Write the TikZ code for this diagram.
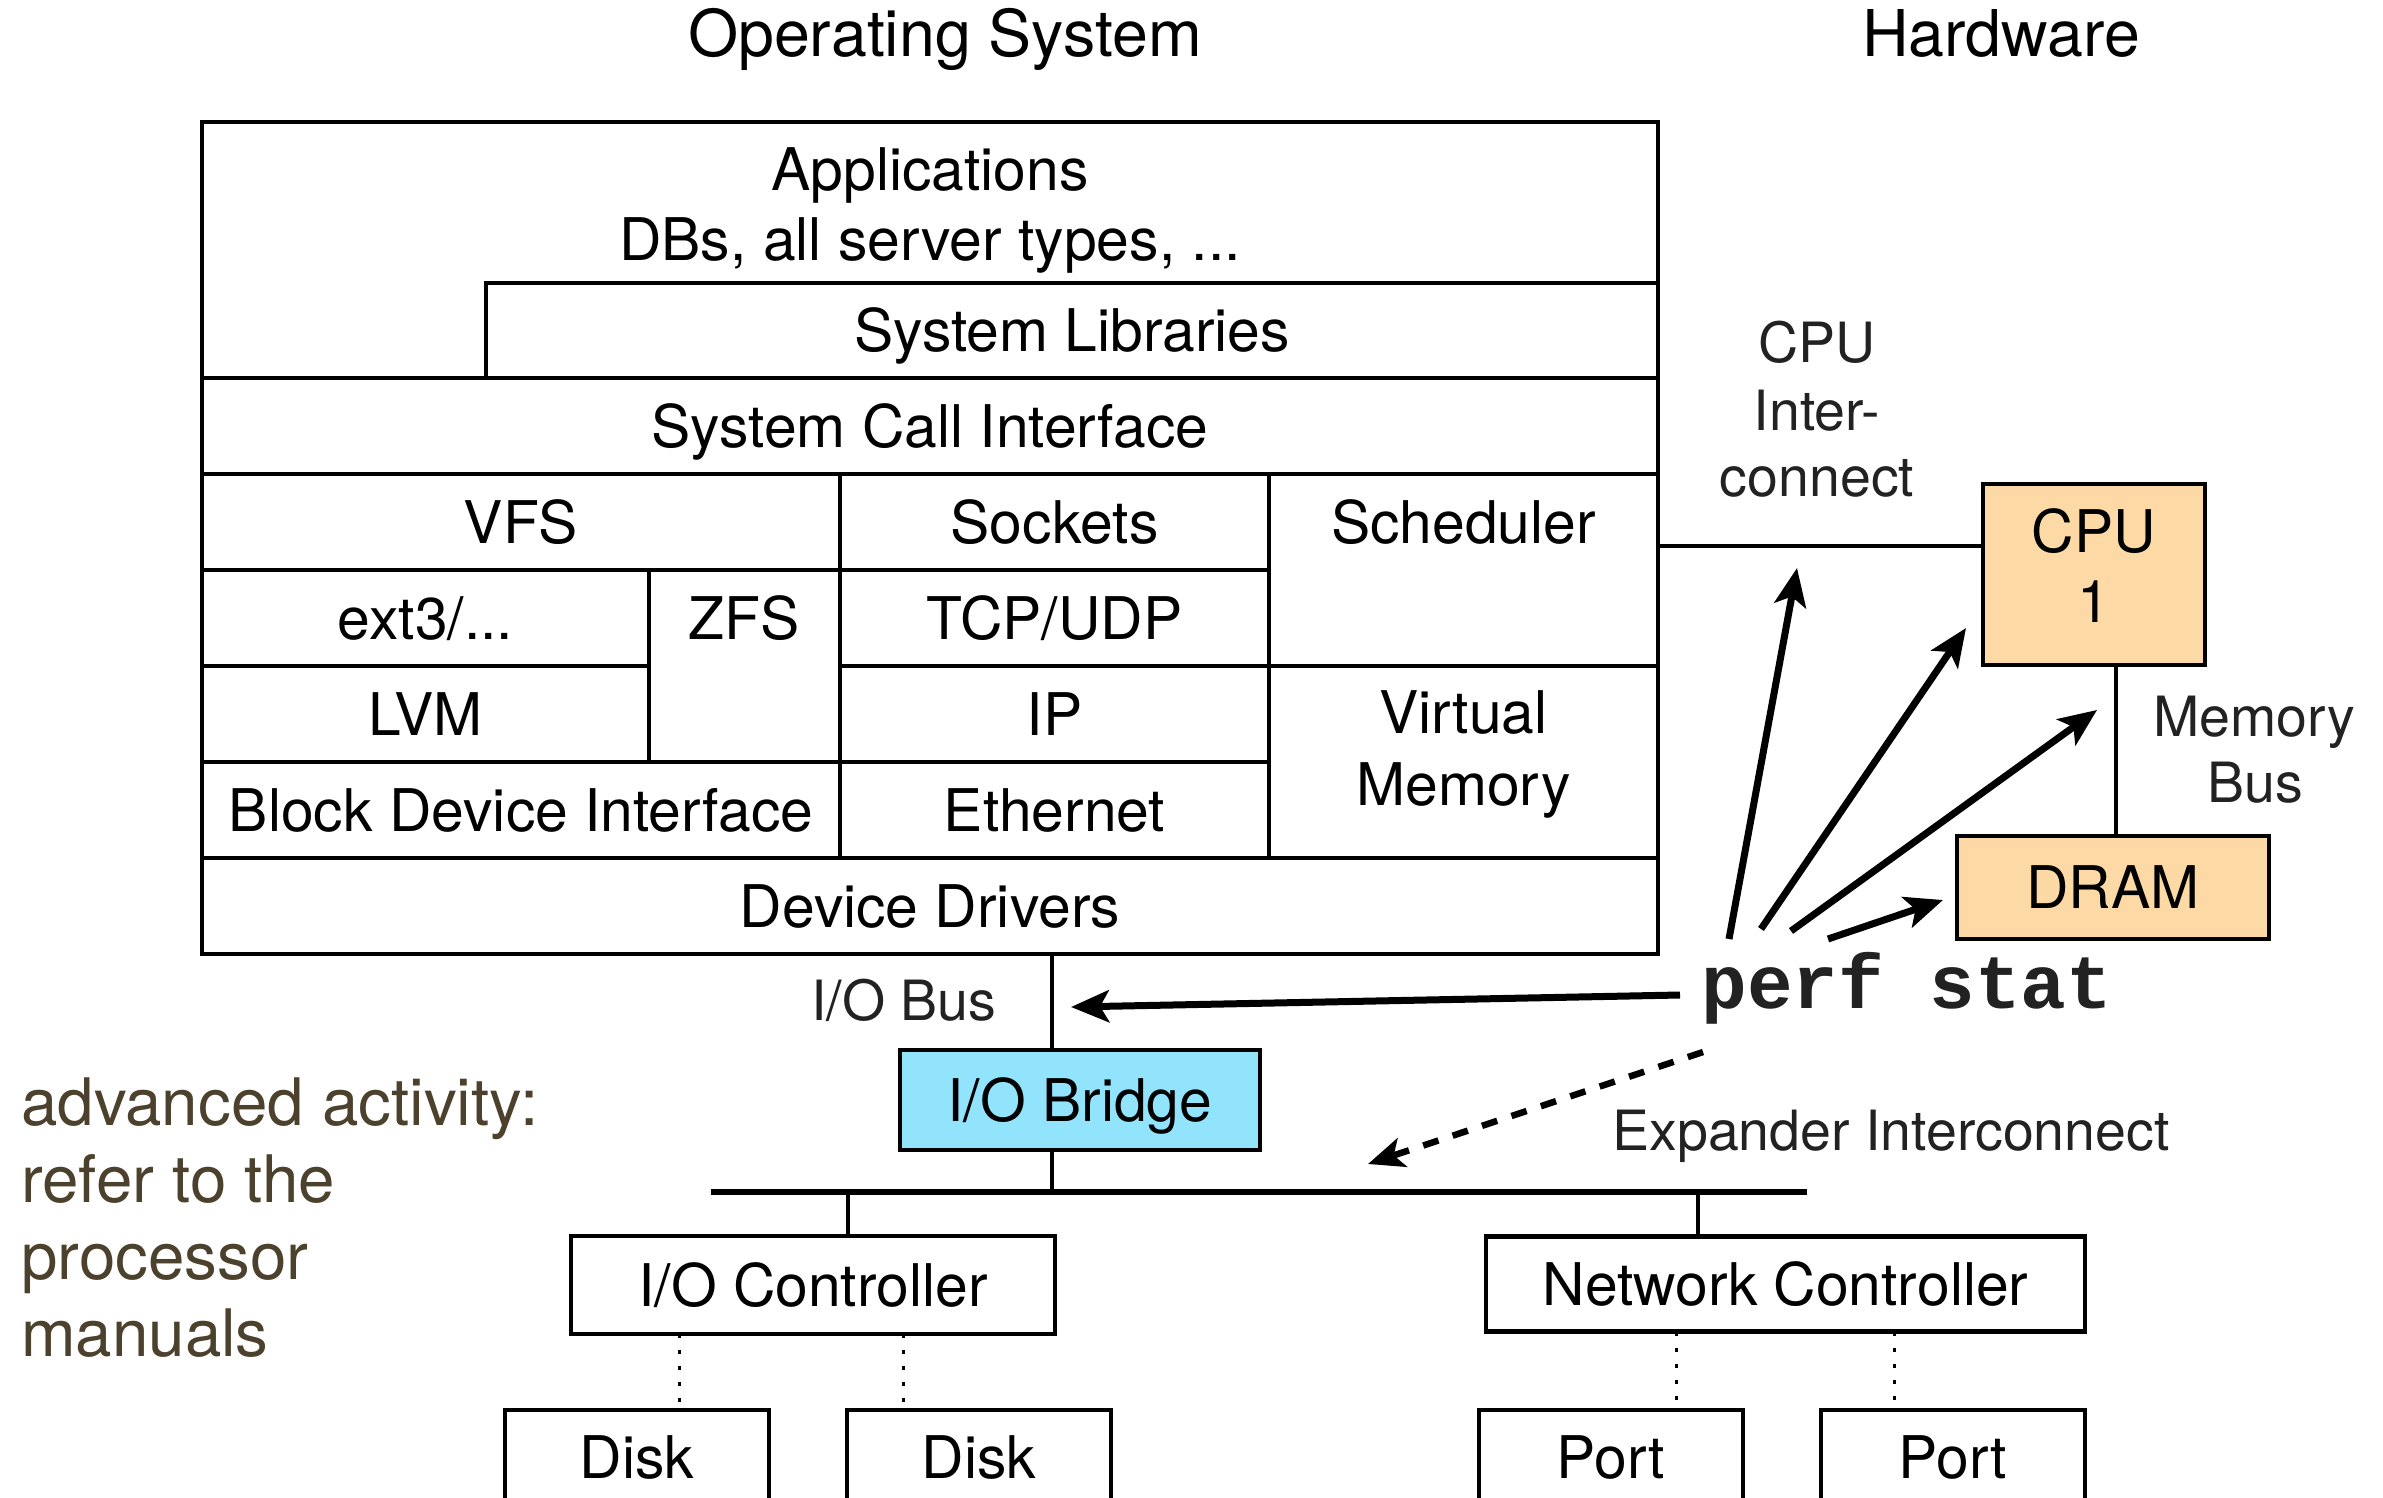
\documentclass[tikz,border=0pt]{standalone}
\usepackage{fontspec}
\setmainfont{TeX Gyre Heros}
\newfontfamily\perffont{Liberation Mono}
\usetikzlibrary{arrows.meta}
\definecolor{cpuorange}{HTML}{FCD9A5}
\definecolor{bridgecyan}{HTML}{92E3FC}
\definecolor{labelgray}{HTML}{222222}
\definecolor{advbrown}{HTML}{4B412D}
\tikzset{
  box/.style={draw=black, line width=4.5pt, inner sep=0pt, outer sep=0pt},
  bodytxt/.style={font=\fontsize{58.8}{70}\selectfont, inner sep=0pt, text height=42pt, text depth=0pt},
  lbl/.style={font=\fontsize{55.5}{66}\selectfont, text=labelgray, inner sep=0pt, anchor=base},
  head/.style={font=\fontsize{64.5}{77}\selectfont, inner sep=0pt, anchor=base},
  advtxt/.style={font=\fontsize{65.5}{77}\selectfont, text=advbrown, inner sep=0pt, anchor=base west},
  wire/.style={line width=3.5pt},
  buswire/.style={line width=5.5pt},
  perfarrow/.style={line width=7pt, -{Stealth[length=38pt,width=32pt,inset=9pt]}},
  dasharrow/.style={line width=6.5pt, dash pattern=on 16pt off 15pt, -{Stealth[length=36pt,width=30pt,inset=9pt]}},
  dotwire/.style={line width=3pt, dash pattern=on 4pt off 12pt},
}
\begin{document}
\begin{tikzpicture}[x=1pt,y=-1pt]
\useasboundingbox (0,0) rectangle (2383,1498);
\clip (0,0) rectangle (2383,1498);

% headings
\node[head] (oshead) at (945,57) {Operating System};
\node[head] (hwhead) at (2001,57) {Hardware};

% OS stack
\node[box, minimum width=1456pt, minimum height=832pt] (os) at (930,538) {};
\node[bodytxt] (app1) at (930,170) {Applications};
\node[bodytxt] (app2) at (930,240) {DBs, all server types, ...};
\node[box, bodytxt, minimum width=1172pt, minimum height=95pt] (syslib) at (1072,330.5) {System Libraries};
\node[box, bodytxt, minimum width=1456pt, minimum height=96pt] (sci) at (930,426) {System Call Interface};
\node[box, bodytxt, minimum width=638pt, minimum height=96pt] (vfs) at (521,522) {VFS};
\node[box, bodytxt, minimum width=429pt, minimum height=96pt] (sockets) at (1054.5,522) {Sockets};
\node[box, minimum width=389pt, minimum height=192pt] (sched) at (1463.5,570) {};
\node[bodytxt] (schedtxt) at (1463.5,522) {Scheduler};
\node[box, bodytxt, minimum width=447pt, minimum height=96pt] (ext) at (425.5,618) {ext3/...};
\node[box, minimum width=191pt, minimum height=192pt] (zfs) at (744.5,666) {};
\node[bodytxt] (zfstxt) at (744.5,618) {ZFS};
\node[box, bodytxt, minimum width=429pt, minimum height=96pt] (tcp) at (1054.5,618) {TCP/UDP};
\node[box, bodytxt, minimum width=447pt, minimum height=96pt] (lvm) at (425.5,714) {LVM};
\node[box, bodytxt, minimum width=429pt, minimum height=96pt] (ip) at (1054.5,714) {IP};
\node[box, minimum width=389pt, minimum height=192pt] (vm) at (1463.5,762) {};
\node[bodytxt] (vmtxt1) at (1463.5,712) {Virtual};
\node[bodytxt] (vmtxt2) at (1463.5,784) {Memory};
\node[box, bodytxt, minimum width=638pt, minimum height=96pt] (bdi) at (521,810) {Block Device Interface};
\node[box, bodytxt, minimum width=429pt, minimum height=96pt] (eth) at (1054.5,810) {Ethernet};
\node[box, bodytxt, minimum width=1456pt, minimum height=96pt] (dd) at (930,906) {Device Drivers};

% hardware
\node[box, fill=cpuorange, minimum width=222pt, minimum height=181pt] (cpu) at (2094,574.5) {};
\node[bodytxt] (cputxt1) at (2094,531) {CPU};
\node[bodytxt] (cputxt2) at (2094,601) {1};
\node[box, bodytxt, fill=cpuorange, minimum width=312pt, minimum height=103pt] (dram) at (2113,887.5) {DRAM};

\node[lbl] (ic1) at (1817,362) {CPU};
\node[lbl] (ic2) at (1817,430) {Inter-};
\node[lbl] (ic3) at (1817,496) {connect};
\node[lbl] (mb1) at (2254,736) {Memory};
\node[lbl] (mb2) at (2255,802) {Bus};

\coordinate (icl) at (1658,546);
\draw[wire] (icl) -- (icl -| cpu.west);
\coordinate (mbx) at (2116,700);
\draw[wire] (cpu.south -| mbx) -- (dram.north -| mbx);

% I/O side
\node[box, bodytxt, fill=bridgecyan, minimum width=360pt, minimum height=100pt] (bridge) at (1080,1100) {I/O Bridge};
\node[lbl] (iobus) at (904,1020) {I/O Bus};
\coordinate (iobx) at (1052,1000);
\draw[wire] (os.south -| iobx) -- (bridge.north -| iobx);

\coordinate (exl) at (711,1192);
\coordinate (exr) at (1807,1192);
\draw[buswire] (exl) -- (exr);
\draw[wire] (bridge.south -| iobx) -- (iobx |- exl);
\node[lbl] (exp) at (1891,1150) {Expander Interconnect};

\node[box, bodytxt, minimum width=484pt, minimum height=98pt] (ioc) at (813,1285) {I/O Controller};
\node[box, bodytxt, minimum width=599pt, minimum height=95pt] (nc) at (1785.5,1284) {Network Controller};
\coordinate (iocx) at (848,1200);
\coordinate (ncx) at (1698,1200);
\draw[wire] (iocx |- exl) -- (ioc.north -| iocx);
\draw[wire] (ncx |- exl) -- (nc.north -| ncx);

\node[box, minimum width=264pt, minimum height=150pt] (disk1) at (637,1485) {};
\node[box, minimum width=264pt, minimum height=150pt] (disk2) at (979,1485) {};
\node[box, minimum width=264pt, minimum height=150pt] (port1) at (1611,1485) {};
\node[box, minimum width=264pt, minimum height=150pt] (port2) at (1953,1485) {};
\node[bodytxt] (disk1txt) at (637,1457) {Disk};
\node[bodytxt] (disk2txt) at (979,1457) {Disk};
\node[bodytxt] (port1txt) at (1611,1457) {Port};
\node[bodytxt] (port2txt) at (1953,1457) {Port};

\coordinate (d1x) at (679,1370);
\coordinate (d2x) at (903,1370);
\coordinate (p1x) at (1676,1370);
\coordinate (p2x) at (1894,1370);
\draw[dotwire] (ioc.south -| d1x) -- (disk1.north -| d1x);
\draw[dotwire] (ioc.south -| d2x) -- (disk2.north -| d2x);
\draw[dotwire] (nc.south -| p1x) -- (port1.north -| p1x);
\draw[dotwire] (nc.south -| p2x) -- (port2.north -| p2x);

% perf stat
\node[font=\perffont\bfseries\fontsize{76}{90}\selectfont, text=labelgray, inner sep=0pt, anchor=base] (perf) at (1907,1008) {perf stat};
\coordinate (ps1) at (1729,939);
\coordinate (ps2) at (1761,929);
\coordinate (ps3) at (1791,931);
\coordinate (ps4) at (1828,939);
\coordinate (ps5) at (1680,995);
\coordinate (ps6) at (1703,1052);
\coordinate (t1) at (1797,568);
\coordinate (t2) at (1966,628);
\coordinate (t3) at (2097,710);
\coordinate (t4) at (1943,900);
\coordinate (t5) at (1071,1007);
\coordinate (t6) at (1368,1164);
\draw[perfarrow] (ps1) -- (t1);
\draw[perfarrow] (ps2) -- (t2);
\draw[perfarrow] (ps3) -- (t3);
\draw[perfarrow] (ps4) -- (t4);
\draw[perfarrow] (ps5) -- (t5);
\draw[dasharrow] (ps6) -- (t6);

% note
\node[advtxt] (adv1) at (21,1125) {advanced activity:};
\node[advtxt] (adv2) at (21,1202) {refer to the};
\node[advtxt] (adv3) at (21,1279) {processor};
\node[advtxt] (adv4) at (21,1356) {manuals};
\end{tikzpicture}
\end{document}
